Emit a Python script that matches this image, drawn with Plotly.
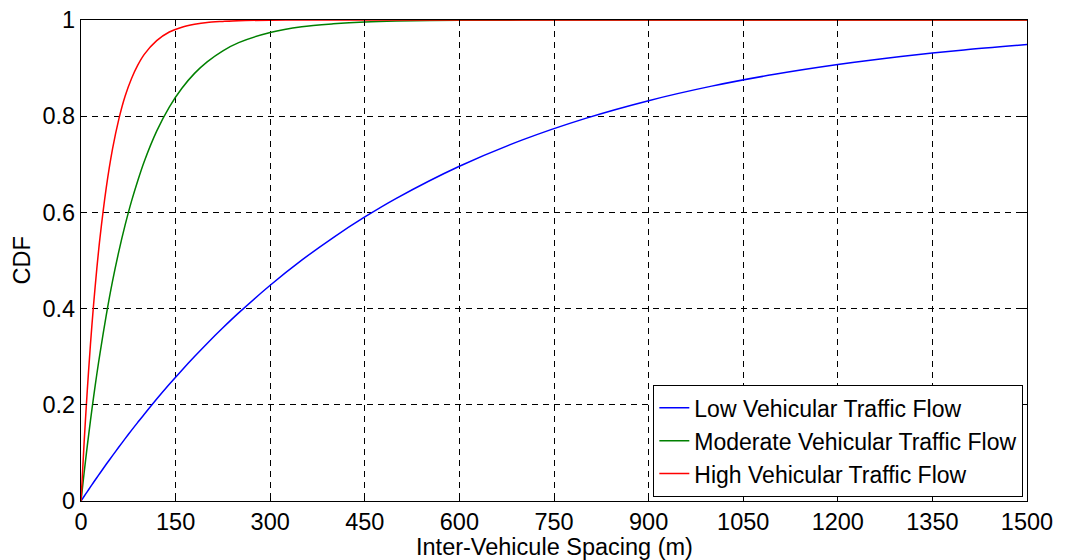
import plotly.graph_objects as go

# Inter-vehicle spacing (m)
spacing = [0, 5, 10, 15, 20, 25, 30, 40, 50, 60, 70, 80, 90, 100, 120, 140, 160, 180,
           200, 225, 250, 300, 350, 400, 450, 500, 600, 700, 800, 900, 1000, 1100,
           1200, 1300, 1400, 1500]

cdf_low = [0, 0.0099, 0.0196, 0.0293, 0.0389, 0.0484, 0.0578, 0.0763, 0.0944, 0.1122,
           0.1297, 0.1468, 0.1635, 0.1800, 0.2119, 0.2426, 0.2720, 0.3003, 0.3276,
           0.3601, 0.3911, 0.4486, 0.5007, 0.5478, 0.5905, 0.6292, 0.6959, 0.7507,
           0.7955, 0.8323, 0.8625, 0.8872, 0.9075, 0.9242, 0.9378, 0.9490]

cdf_moderate = [0, 0.0592, 0.115, 0.167, 0.2165, 0.263, 0.306, 0.386, 0.457, 0.519,
                0.574, 0.623, 0.666, 0.705, 0.769, 0.819, 0.858, 0.889, 0.913, 0.936,
                0.953, 0.974, 0.986, 0.992, 0.996, 0.998, 0.9993, 0.9998, 1, 1, 1, 1,
                1, 1, 1, 1]

cdf_high = [0, 0.123, 0.231, 0.326, 0.409, 0.482, 0.546, 0.651, 0.732, 0.794, 0.842,
            0.878, 0.906, 0.928, 0.957, 0.975, 0.985, 0.991, 0.995, 0.997, 0.9986,
            0.9996, 1, 1, 1, 1, 1, 1, 1, 1, 1, 1, 1, 1, 1, 1]

series_names = ["Low Vehicular Traffic Flow", "Moderate Vehicular Traffic Flow",
                "High Vehicular Traffic Flow"]
series_colors = ["#0000ff", "#008000", "#ff0000"]

x_ticks = [0, 150, 300, 450, 600, 750, 900, 1050, 1200, 1350, 1500]
y_ticks = [0, 0.2, 0.4, 0.6, 0.8, 1]
y_tick_labels = ["0", "0.2", "0.4", "0.6", "0.8", "1"]

FONT = "Liberation Sans, Arial, sans-serif"
FS = 23.5

fig = go.Figure()
for name, ys, col in zip(series_names, [cdf_low, cdf_moderate, cdf_high], series_colors):
    fig.add_trace(go.Scatter(x=spacing, y=ys, mode="lines", name=name,
                             line=dict(color=col, width=1.5, shape="spline", smoothing=0.8),
                             cliponaxis=True))

axis_common = dict(
    showline=True, linecolor="black", linewidth=1.3, mirror="ticks",
    ticks="inside", ticklen=6, tickcolor="black", tickwidth=1,
    showgrid=True, gridcolor="black", gridwidth=1, griddash="6px,5px",
    zeroline=False, tickfont=dict(family=FONT, size=FS, color="black"),
)

fig.update_xaxes(range=[0, 1500], tickvals=x_ticks, ticktext=[str(v) for v in x_ticks],
                 ticklabelstandoff=0, **axis_common)
fig.update_yaxes(range=[0, 1], tickvals=y_ticks, ticktext=y_tick_labels, **axis_common)

fig.update_layout(
    width=1066, height=560,
    margin=dict(l=81, r=39, t=20, b=59, autoexpand=False),
    paper_bgcolor="white", plot_bgcolor="white",
    font=dict(family=FONT, size=FS, color="black"),
    showlegend=True,
    legend=dict(x=0.9958, xanchor="right", y=0.0083, yanchor="bottom",
                bgcolor="white", bordercolor="black", borderwidth=1.3,
                font=dict(family=FONT, size=23, color="black"),
                tracegroupgap=0, itemwidth=30),
    annotations=[
        dict(text="Inter-Vehicule Spacing (m)", xref="paper", yref="paper",
             x=0.5, y=0, yshift=-61, xanchor="center", yanchor="bottom",
             showarrow=False, font=dict(family=FONT, size=23.5, color="black")),
        dict(text="CDF", xref="paper", yref="paper", x=0, y=0.5, xshift=-60,
             xanchor="center", yanchor="middle", textangle=-90,
             showarrow=False, font=dict(family=FONT, size=FS, color="black")),
    ],
)

fig.write_html("out.html")
